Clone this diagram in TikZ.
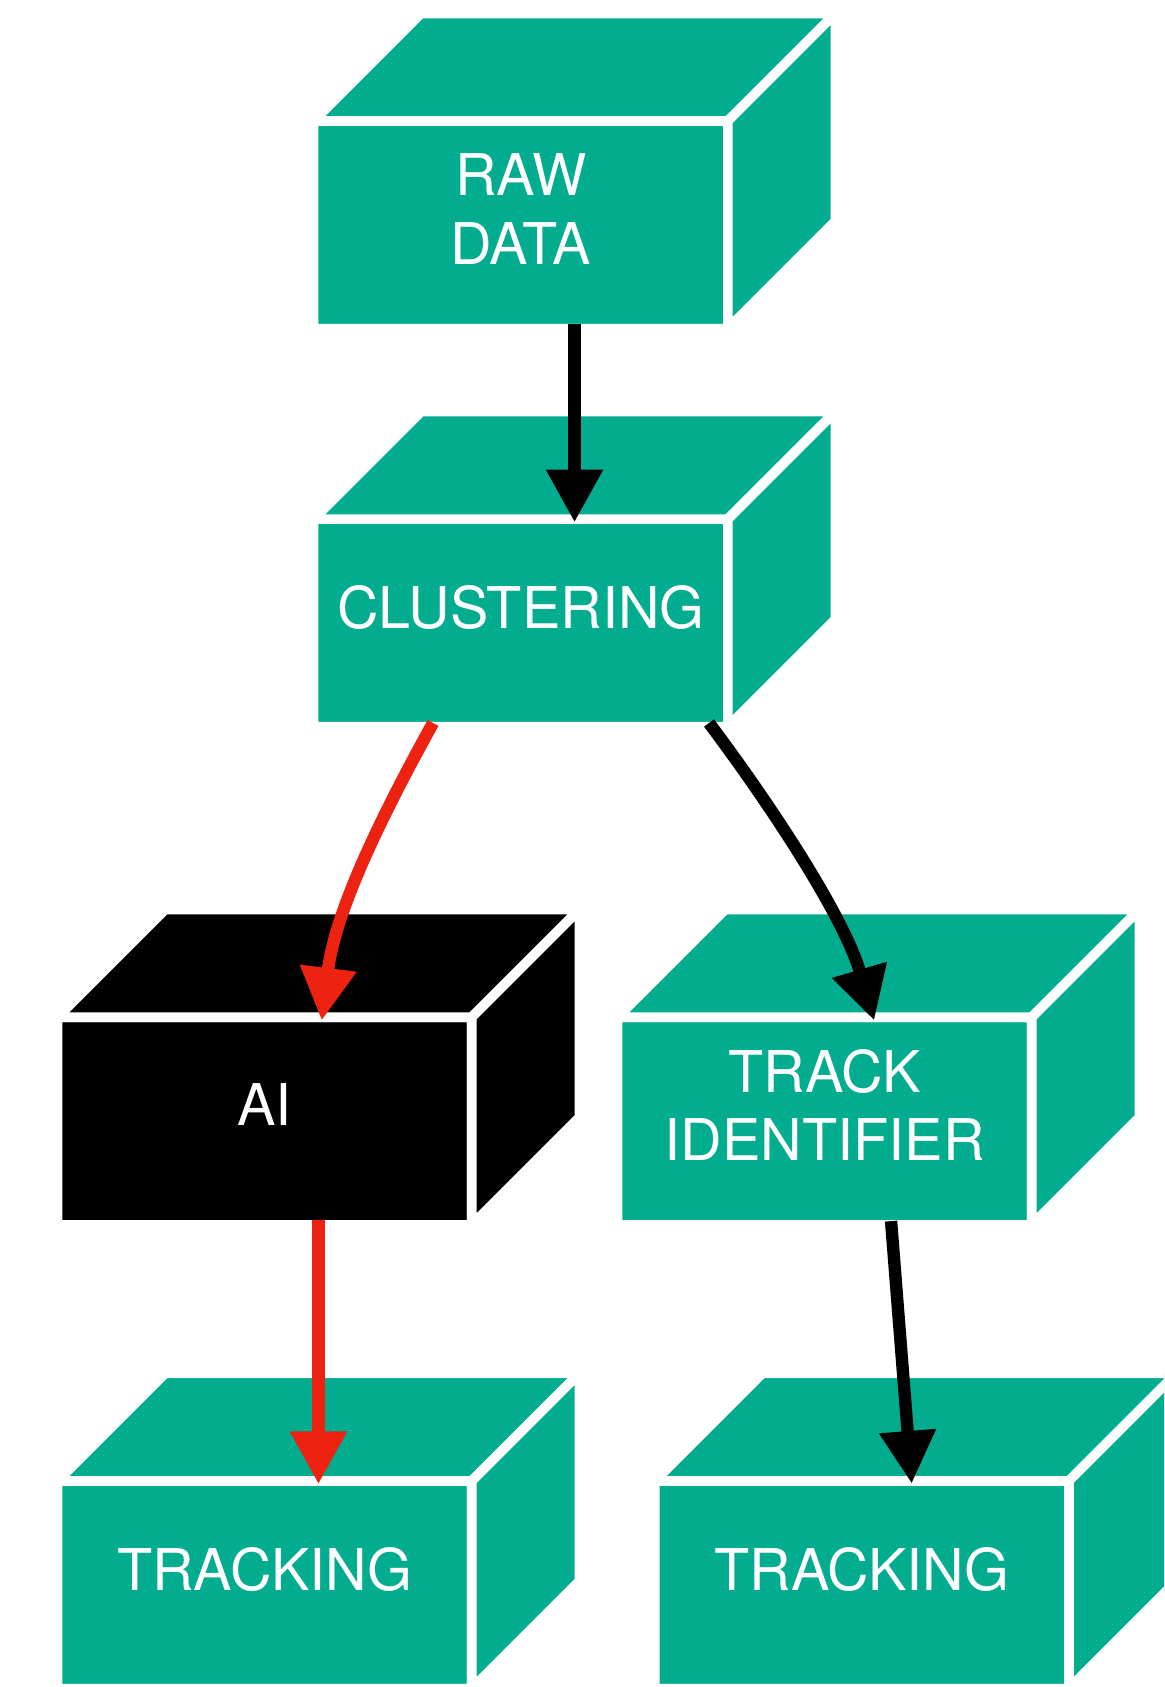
\documentclass[tikz,border=0pt]{standalone}
\usepackage{fontspec}
\setmainfont{TeX Gyre Heros}
\usetikzlibrary{
    arrows.meta,
    positioning
}
\definecolor{cubeteal}{RGB}{2,172,142}
\definecolor{aired}{RGB}{238,34,17}
\tikzset{cube/.style={
    rectangle,
    fill=cubeteal,
    draw=white,
    line width=9pt,
    rounded corners=2pt,
    outer sep=0pt,
    minimum width=385pt,
    minimum height=193pt,
    text=white,
    align=center,
    font=\fontsize{53.5}{64}\selectfont,
    text depth=30pt
}}
\tikzset{face/.style={draw=white, line width=9pt}}
\tikzset{arrow/.style={-{Triangle[length=49pt,width=50pt]}, line width=11.5pt}}

\begin{document}
\begin{tikzpicture}[
            x=1pt,
            y=1pt,
    ]
        \useasboundingbox (0,0) rectangle (1082,1568);
        \clip (0,0) rectangle (1082,1568);

        \node[cube]
            (raw) at (484,1359)
            {RAW\\DATA};

        \node[cube, below=177pt of raw]
            (clu)
            {CLUSTERING};

        \node[cube, fill=black, below=270pt of clu, xshift=-238pt]
            (ai)
            {AI};

        \node[cube, below=270pt of clu, xshift=282.5pt]
            (track)
            {TRACK\\IDENTIFIER};

        \node[cube, below=238pt of ai]
            (trackl)
            {TRACKING};

        \node[cube, below=238pt of track, xshift=34.5pt]
            (trackr)
            {TRACKING};

        % top and side faces
        \foreach \n/\c in {raw/cubeteal, clu/cubeteal, ai/black, track/cubeteal, trackl/cubeteal, trackr/cubeteal} {
            \filldraw[face, fill=\c] (\n.north west) -- ++(100,100) -- ++(385,0) -- (\n.north east) -- cycle;
            \filldraw[face, fill=\c] (\n.north east) -- ++(100,100) -- ++(0,-193) -- (\n.south east) -- cycle;
        }

        \draw[arrow] ([xshift=50,yshift=4.5]raw.south) -- ([xshift=50,yshift=-3]clu.north);
        \draw[arrow, aired] ([xshift=-81.5,yshift=3.5]clu.south)
            .. controls +(-75,-135) and +(10,80) .. ([xshift=53,yshift=-3]ai.north);
        \draw[arrow] ([xshift=175,yshift=3.5]clu.south)
            .. controls +(60,-80) and +(-28,96) .. ([xshift=46,yshift=-3]track.north);
        \draw[arrow, aired] ([xshift=50,yshift=4.5]ai.south) -- ([xshift=50,yshift=-3]trackl.north);
        \draw[arrow] ([xshift=61.7,yshift=3.5]track.south) -- ([xshift=46.4,yshift=-2.5]trackr.north);

    \end{tikzpicture}
\end{document}
